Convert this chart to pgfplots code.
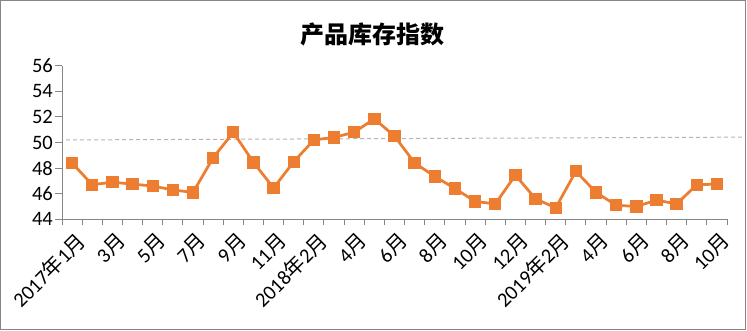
\documentclass[border=0pt]{standalone}
\usepackage{fontspec}
\setmainfont{Carlito}
\newfontfamily\cjk{Noto Sans CJK SC}
\usepackage{pgfplots}
\pgfplotsset{compat=1.18}
\definecolor{lineorange}{HTML}{ED7D31}
\definecolor{axgray}{HTML}{868686}
\definecolor{dashgray}{HTML}{B4B4B4}
\newcommand\Y{{\cjk 年}}
\newcommand\M{{\cjk 月}}
\begin{document}
\begin{tikzpicture}[x=1bp,y=1bp]
\useasboundingbox (0,0) rectangle (747,330);
\draw[axgray, line width=1bp] (0.5,0.5) rectangle (745.5,329.5);
\node[font=\cjk\bfseries\fontsize{24bp}{25bp}\selectfont] at (372,296) {产品库存指数};
\begin{axis}[
  at={(62bp,110.7bp)}, anchor=south west,
  scale only axis,
  width=665bp, height=153.6bp,
  xmin=-0.5, xmax=32.5, ymin=44, ymax=56,
  axis x line*=bottom, axis y line*=left,
  axis line style={axgray, line width=1bp},
  ytick={44,46,...,56},
  xtick={0,2,...,32},
  xticklabels={2017\Y1\M, 3\M, 5\M, 7\M, 9\M, 11\M, 2018\Y2\M, 4\M, 6\M, 8\M, 10\M, 12\M, 2019\Y2\M, 4\M, 6\M, 8\M, 10\M},
  minor xtick={-0.5,0.5,...,32.5},
  tick align=outside,
  major tick length=7bp,
  minor tick length=6bp,
  major x tick style={draw=none},
  minor x tick style={axgray, line width=1bp},
  ytick style={axgray, line width=1bp},
  clip=false,
  tick label style={font=\fontsize{20.5bp}{21bp}\selectfont, text=black},
  /pgf/number format/assume math mode=true,
  xticklabel style={rotate=45, anchor=north east, inner sep=1bp, yshift=-4bp},
  yticklabel style={inner sep=2bp},
]
\addplot[dashgray, line width=1bp, dash pattern=on 4bp off 3bp, forget plot] coordinates {(-0.3,50.2) (33.4,50.42)};
\addplot[lineorange, line width=2.75bp, mark=square*, mark size=4.8bp, mark options={solid, fill=lineorange}] coordinates {
(0,48.4) (1,46.7) (2,46.9) (3,46.75) (4,46.6) (5,46.3) (6,46.1) (7,48.8) (8,50.8) (9,48.45)
(10,46.45) (11,48.5) (12,50.2) (13,50.4) (14,50.8) (15,51.85) (16,50.5) (17,48.4) (18,47.35) (19,46.4)
(20,45.4) (21,45.2) (22,47.45) (23,45.6) (24,44.9) (25,47.75) (26,46.1) (27,45.1) (28,45.0) (29,45.5)
(30,45.2) (31,46.7) (32,46.75)
};
\end{axis}
\end{tikzpicture}
\end{document}
